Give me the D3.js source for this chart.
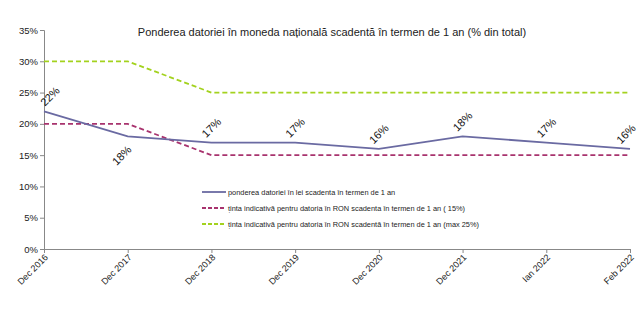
<!DOCTYPE html>
<html>
<head>
<meta charset="utf-8">
<script src="https://cdn.jsdelivr.net/npm/d3@7"></script>
<style>
  body { margin: 0; background: #fff; }
  text { font-family: "Liberation Sans", Arial, sans-serif; }
</style>
</head>
<body>
<div class="chart"></div>
<script>
// chart data
var categories = ["Dec 2016", "Dec 2017", "Dec 2018", "Dec 2019", "Dec 2020", "Dec 2021", "Ian 2022", "Feb 2022"];
var ponderea = [22, 18, 17, 17, 16, 18, 17, 16];
var tinta15 = [20, 20, 15, 15, 15, 15, 15, 15];
var tinta25 = [30, 30, 25, 25, 25, 25, 25, 25];
var yTicks = [0, 5, 10, 15, 20, 25, 30, 35];
var labelBelow = [false, true, false, false, false, false, false, false];

var svgWidth = 643,
    svgHeight = 314,
    margin = {top: 30, right: 13, bottom: 65, left: 44},
    width = svgWidth - margin.left - margin.right,
    height = svgHeight - margin.top - margin.bottom;

var svg = d3.select(".chart")
    .append("svg")
    .attr("width", svgWidth)
    .attr("height", svgHeight)
    .append("g")
    .attr("transform", "translate(" + margin.left + "," + margin.top + ")");

var x = d3.scalePoint().domain(categories).range([0, width]).padding(0);
var y = d3.scaleLinear().domain([0, 35]).range([height, 0]);

// axes
var yAxis = d3.axisLeft(y).tickValues(yTicks).tickSize(4).tickFormat(function(d) { return d + "%"; });
var xAxis = d3.axisBottom(x).tickSize(4);

var gy = svg.append("g").attr("class", "axis axis--y").call(yAxis);
gy.selectAll("path, line").attr("stroke", "#888");
gy.selectAll("text").attr("font-size", 9.5).attr("fill", "#222").attr("x", -6);

var gx = svg.append("g")
    .attr("class", "axis axis--x")
    .attr("transform", "translate(0," + height + ")")
    .call(xAxis);
gx.selectAll("path, line").attr("stroke", "#888");
gx.selectAll("text")
    .attr("font-size", 9)
    .attr("fill", "#222")
    .attr("text-anchor", "end")
    .attr("dy", 0)
    .attr("y", 0)
    .attr("transform", "translate(4,9) rotate(-45)");

// lines
var line = function(vals) {
    return d3.line()
        .x(function(d, i) { return x(categories[i]); })
        .y(function(d) { return y(d); })(vals);
};

svg.append("path").attr("d", line(tinta25))
    .attr("fill", "none").attr("stroke", "#a3d21e").attr("stroke-width", 1.8)
    .attr("stroke-dasharray", "5,3");
svg.append("path").attr("d", line(tinta15))
    .attr("fill", "none").attr("stroke", "#a8336e").attr("stroke-width", 1.8)
    .attr("stroke-dasharray", "5,3");
svg.append("path").attr("d", line(ponderea))
    .attr("fill", "none").attr("stroke", "#6a6aa2").attr("stroke-width", 1.8);

// value labels
svg.selectAll(".vlabel")
    .data(ponderea)
    .enter().append("text")
    .attr("class", "vlabel")
    .attr("font-size", 11)
    .attr("fill", "#111")
    .attr("text-anchor", "middle")
    .attr("transform", function(d, i) {
        var px = x(categories[i]), py = y(d);
        if (i === 0) px += 6;
        if (i === categories.length - 1) px -= 4;
        var oy = labelBelow[i] ? 19 : -15;
        if (labelBelow[i]) px -= 6;
        return "translate(" + px + "," + (py + oy) + ") rotate(-45)";
    })
    .attr("dy", "0.35em")
    .text(function(d) { return d + "%"; });

// title
svg.append("text")
    .attr("x", width / 2 - 5)
    .attr("y", 6)
    .attr("text-anchor", "middle")
    .attr("font-size", 11)
    .attr("fill", "#222")
    .text("Ponderea datoriei în moneda națională scadentă în termen de 1 an (% din total)");

// legend
var legendItems = [
    {label: "ponderea datoriei în lei scadenta în termen de 1 an", color: "#6a6aa2", dash: null},
    {label: "ținta indicativă pentru datoria în RON scadenta în termen de  1 an ( 15%)", color: "#a8336e", dash: "4,2"},
    {label: "ținta indicativă pentru datoria în RON scadentă în termen de  1 an (max 25%)", color: "#a3d21e", dash: "4,2"}
];
var legend = svg.append("g").attr("transform", "translate(158," + (192 - margin.top) + ")");
legendItems.forEach(function(it, i) {
    var g = legend.append("g").attr("transform", "translate(0," + (i * 16) + ")");
    g.append("line").attr("x1", 0).attr("x2", 24).attr("y1", 0).attr("y2", 0)
        .attr("stroke", it.color).attr("stroke-width", 1.8)
        .attr("stroke-dasharray", it.dash);
    g.append("text").attr("x", 26).attr("y", 0).attr("dy", "0.35em")
        .attr("font-size", 7.4).attr("fill", "#222").text(it.label);
});
</script>
</body>
</html>
